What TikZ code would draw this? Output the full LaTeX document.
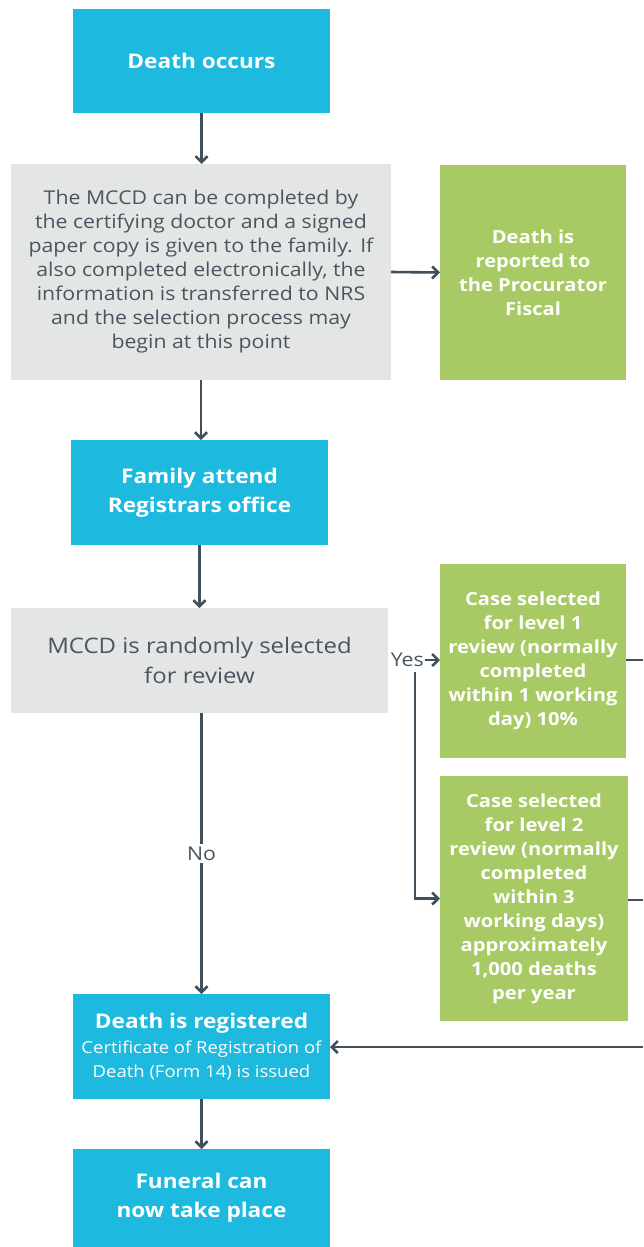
\documentclass[tikz,border=0pt]{standalone}
\usepackage{fontspec}
\setmainfont{Open Sans}[FakeStretch=1.12]
\usetikzlibrary{arrows.meta,positioning}
\definecolor{cblue}{HTML}{1DB9DE}
\definecolor{cgray}{HTML}{E4E6E5}
\definecolor{cgreen}{HTML}{A8CA64}
\definecolor{cline}{HTML}{3F4F5B}
\definecolor{ctext}{HTML}{4A5560}
\begin{document}
\begin{tikzpicture}[x=1pt,y=-1pt,
  box/.style={inner sep=0pt,outer sep=0pt,align=center},
  bluebox/.style={box,fill=cblue,text=white,font=\fontsize{20.2}{29}\selectfont\bfseries},
  graybox/.style={box,fill=cgray,text=ctext,font=\fontsize{19}{24}\selectfont},
  greenbox/.style={box,fill=cgreen,text=white,font=\fontsize{18}{24}\selectfont\bfseries},
  conn/.style={draw=cline,line width=2.6pt,-{Straight Barb[length=6pt,width=12pt,line width=2.6pt]}},
  plain/.style={draw=cline,line width=2.6pt},
  lbl/.style={text=ctext,font=\fontsize{19}{24}\selectfont,inner sep=1pt}]
\useasboundingbox (0,0) rectangle (643,1247);
% boxes
\node[bluebox,minimum width=257pt,minimum height=104pt] (occ) at (201.5,61) {Death occurs};
\node[graybox,minimum width=380pt,minimum height=216pt] (mccd) at (201,272) {The MCCD can be completed by\\the certifying doctor and a signed\\paper copy is given to the family. If\\also completed electronically, the\\information is transferred to NRS\\and the selection process may\\begin at this point};
\node[greenbox,minimum width=186pt,minimum height=215pt] (pf) at (533,272.5) {Death is\\reported to\\the Procurator\\Fiscal};
\node[bluebox,minimum width=257pt,minimum height=105pt] (fam) at (199.5,492.5) {Family attend\\Registrars office};
\node[graybox,minimum width=377pt,minimum height=105pt,font=\fontsize{21.4}{30}\selectfont] (rand) at (199.5,660.5) {MCCD is randomly selected\\for review};
\node[greenbox,minimum width=186pt,minimum height=194pt] (l1) at (533,661) {Case selected\\for level 1\\review (normally\\completed\\within 1 working\\day) 10\%};
\node[greenbox,minimum width=188pt,minimum height=245pt] (l2) at (534,898.5) {Case selected\\for level 2\\review (normally\\completed\\within 3\\working days)\\approximately\\1,000 deaths\\per year};
\node[bluebox,minimum width=257pt,minimum height=105pt,align=center] (reg) at (201.5,1046.5) {\raisebox{-2pt}{Death is registered}\\[-2pt]{\fontsize{16.5}{24}\selectfont\mdseries Certificate of Registration of}\\[-5pt]{\fontsize{16.5}{23}\selectfont\mdseries Death (Form 14) is issued}};
\node[bluebox,minimum width=257pt,minimum height=98pt] (fun) at (201.5,1198) {Funeral can\\now take place};
% connectors
\draw[conn] (occ.south) -- (occ.south |- mccd.north);
\draw[conn] (mccd.south) -- (mccd.south |- fam.north);
\draw[conn] (mccd.east) -- (pf.west);
\draw[conn] (fam.south) -- (fam.south |- rand.north);
\draw[conn] (rand.south -| reg.north) -- node[fill=white,lbl,inner sep=3pt] (no) {No} (reg.north);
\draw[conn] (reg.south) -- (fun.north);
\node[lbl,anchor=east] (yes) at (425,660) {Yes};
\draw[conn] (yes.east) -- (l1.west |- yes.east);
\coordinate (ytop) at (415,672);
\draw[conn] (ytop) |- (l2.west);
\coordinate (r1) at (643,660);
\coordinate (r2) at (643,900);
\coordinate (r3) at (643,1047);
\draw[plain] (l1.east |- r1) -- (r1);
\draw[plain] (l2.east |- r2) -- (r2);
\draw[conn] (r3) -- (reg.east |- r3);
\end{tikzpicture}
\end{document}
